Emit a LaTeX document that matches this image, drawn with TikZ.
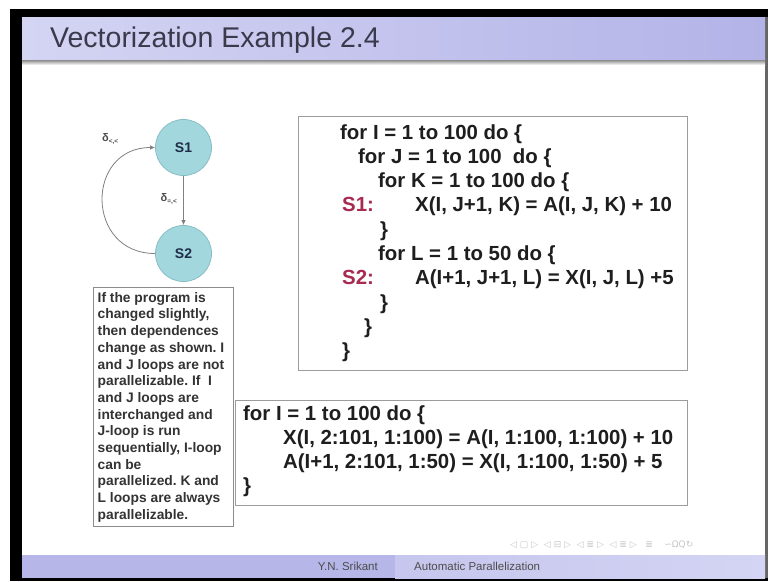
\documentclass[tikz,border=0pt]{standalone}
\usepackage{fontspec}
\setmainfont{Liberation Sans}
\newfontfamily\navfont{DejaVu Sans}
\usetikzlibrary{arrows.meta}
\definecolor{titleL}{HTML}{D4D4F3}
\definecolor{titleR}{HTML}{B3B3E8}
\definecolor{titletext}{HTML}{3A3A4C}
\definecolor{footL}{HTML}{B6B6E8}
\definecolor{footR1}{HTML}{C6C6EE}
\definecolor{footR2}{HTML}{D4D4F4}
\definecolor{circfill}{HTML}{A2D8DD}
\definecolor{circline}{HTML}{86BEC6}
\definecolor{circtext}{HTML}{1E2C48}
\definecolor{slabel}{HTML}{A82A50}
\definecolor{codetext}{HTML}{1E1E1E}
\definecolor{boxline}{HTML}{9C9C9C}
\tikzset{
  statenode/.style={circle, minimum size=56pt, inner sep=0pt, fill=circfill, draw=circline, line width=0.8pt,
    text=circtext, font=\bfseries\fontsize{14}{14}\selectfont},
  depline/.style={draw=black!50, line width=0.8pt, -{Latex[length=5pt,width=4.5pt]}},
  deplabel/.style={inner sep=0pt, text=black!70, font=\bfseries\fontsize{11}{11}\selectfont},
  codebox/.style={draw=boxline, line width=1pt, fill=white, inner sep=0pt},
  codeline/.style={anchor=base west, inner sep=0pt, text=codetext, font=\bfseries\fontsize{20.4}{21}\selectfont},
  slab/.style={anchor=base west, inner sep=0pt, text=slabel, font=\bfseries\fontsize{20.4}{21}\selectfont},
  notebox/.style={draw=black!45, line width=0.8pt, inner sep=0pt},
  notetext/.style={anchor=north west, inner sep=0pt, align=left, text=black!80,
    font=\frenchspacing\bfseries\fontsize{13.8}{16.7}\selectfont},
  foottext/.style={inner sep=0pt, text=black!70, font=\fontsize{11.5}{12}\selectfont}
}
\newcommand{\dlab}[1]{δ\raisebox{-2.5pt}{\fontsize{6.5}{6.5}\selectfont #1}}
\begin{document}
\begin{tikzpicture}[x=1pt,y=-1pt]
\useasboundingbox (0,0) rectangle (768,581);
\fill[white] (0,0) rectangle (768,581);
\fill[black] (10,9) rectangle (768,581);
\fill[black!60] (765,17) rectangle (768,578);
\fill[white] (22,17) rectangle (765,578);
% title bar
\shade[left color=titleL, right color=titleR] (22,17) rectangle (765,60);
\shade[top color=black!45, bottom color=white] (22,60) rectangle (765,65);
\node[anchor=base west, inner sep=0pt, text=titletext, font=\fontsize{28.5}{30}\selectfont] (title) at (50,47) {Vectorization Example 2.4};
% footer
\fill[footL] (22,555) rectangle (395,578);
\shade[left color=footR1, right color=footR2] (395,555) rectangle (765,578);
\node[foottext, anchor=base east] (author) at (378,570) {Y.N. Srikant};
\node[foottext, anchor=base west] (ftitle) at (414,570) {Automatic Parallelization};
\node[anchor=base west, inner sep=0pt, text=black!22, font=\navfont\fontsize{9}{9}\selectfont] (nav) at (510,547)
  {◁ ▢ ▷ \ ◁ ⊟ ▷ \ ◁ ≣ ▷ \ ◁ ≣ ▷ \ \ ≣ \ \ \ ∽ΩQ↻};
% dependence graph
\node[statenode] (S1) at (183.5,147.5) {S1};
\node[statenode] (S2) at (183.5,253.5) {S2};
\draw[depline] (S1) -- (S2);
\draw[depline] (S2.west) .. controls +(-70,0) and +(-70,0) .. (S1.west);
\node[deplabel, anchor=east] (d12) at (177,199) {\dlab{=,<}};
\node[deplabel, anchor=west] (d21) at (102,139) {\dlab{<,<}};
% note box
\node[notebox, minimum width=140pt, minimum height=239pt] (notebox) at (163,406.5) {};
\node[notetext] (note) at (97.5,292) {If the program is\\ changed slightly,\\ then dependences\\ change as shown. I\\ and J loops are not\\ parallelizable. If~ I\\ and J loops are\\ interchanged and\\ J-loop is run\\ sequentially, I-loop\\ can be\\ parallelized. K and\\ L loops are always\\ parallelizable.};
% code box 1
\node[codebox, minimum width=389pt, minimum height=254pt] (box1) at (492.5,243) {};
\node[codeline] (c1) at (340,139) {for I = 1 to 100 do \{};
\node[codeline] (c2) at (358,163.3) {for J = 1 to 100~ do \{};
\node[codeline] (c3) at (378,187.6) {for K = 1 to 100 do \{};
\node[slab] (s1) at (342,211.9) {S1:};
\node[codeline] (c4) at (415,211.9) {X(I, J+1, K) = A(I, J, K) + 10};
\node[codeline] (c5) at (380,236.2) {\}};
\node[codeline] (c6) at (378,260.5) {for L = 1 to 50 do \{};
\node[slab] (s2) at (342,284.8) {S2:};
\node[codeline] (c7) at (415,284.8) {A(I+1, J+1, L) = X(I, J, L) +5};
\node[codeline] (c8) at (380,309.1) {\}};
\node[codeline] (c9) at (364,333.4) {\}};
\node[codeline] (c10) at (342,357.7) {\}};
% code box 2
\node[codebox, minimum width=452pt, minimum height=105pt] (box2) at (461,452.5) {};
\node[codeline] (v1) at (243,420) {for I = 1 to 100 do \{};
\node[codeline] (v2) at (283,444.3) {X(I, 2:101, 1:100) = A(I, 1:100, 1:100) + 10};
\node[codeline] (v3) at (283,468.6) {A(I+1, 2:101, 1:50) = X(I, 1:100, 1:50) + 5};
\node[codeline] (v4) at (243,492.9) {\}};
\end{tikzpicture}
\end{document}
